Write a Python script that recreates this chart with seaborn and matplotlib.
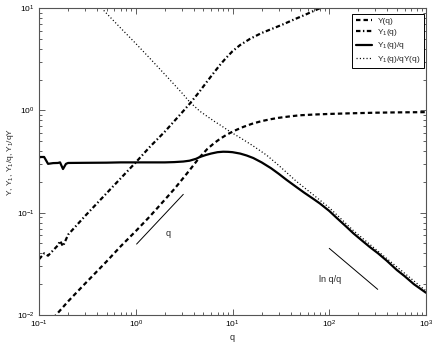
import numpy as np
import pandas as pd
import matplotlib
matplotlib.use("Agg")
import matplotlib.pyplot as plt
import seaborn as sns

# --- data ---
q_Y = [0.14, 0.15, 0.2, 0.3, 0.5, 0.7, 1.0, 1.4, 2.0, 2.5, 3.0, 3.6, 4.6, 5.5,
       6.5, 7.4, 8.5, 9.4, 11, 13, 16, 20, 25, 30, 40, 50, 70, 100, 164, 300,
       500, 1000]
Y = [0.0093, 0.010, 0.0136, 0.0203, 0.0334, 0.047, 0.066, 0.092, 0.134, 0.17,
     0.21, 0.26, 0.35, 0.42, 0.48, 0.525, 0.57, 0.60, 0.645, 0.69, 0.74, 0.785,
     0.82, 0.845, 0.875, 0.895, 0.91, 0.922, 0.935, 0.948, 0.955, 0.96]

q_Y1 = [0.1, 0.113, 0.124, 0.157, 0.165, 0.177, 0.2, 0.3, 0.5, 0.7, 1.0, 1.4,
        2.0, 3.0, 3.64, 4.5, 5.5, 6.5, 7.43, 8.5, 10, 12, 15.2, 20, 25, 33, 45,
        55, 68, 85]
Y1 = [0.035, 0.040, 0.038, 0.048, 0.053, 0.047, 0.061, 0.093, 0.155, 0.217,
      0.31, 0.44, 0.62, 0.95, 1.17, 1.5, 1.93, 2.37, 2.78, 3.22, 3.78, 4.35,
      5.0, 5.7, 6.2, 6.9, 7.85, 8.5, 9.3, 10.2]

q_Y1q = [0.1, 0.102, 0.113, 0.124, 0.14, 0.157, 0.165, 0.177, 0.19, 0.2, 0.3,
         0.5, 0.7, 1.0, 1.5, 2.0, 2.5, 3.1, 3.6, 4.2, 4.6, 5.3, 6.0, 7.0, 8.0,
         9.0, 10, 12, 14, 16.4, 20, 25, 30, 36, 45, 55, 68, 80, 100, 120, 150,
         177, 220, 260, 320, 392, 500, 600, 750, 1000]
Y1_q = [0.34, 0.35, 0.35, 0.30, 0.305, 0.306, 0.31, 0.267, 0.30, 0.306, 0.307,
        0.308, 0.31, 0.31, 0.31, 0.31, 0.312, 0.316, 0.322, 0.336, 0.35, 0.366,
        0.378, 0.39, 0.394, 0.393, 0.39, 0.378, 0.362, 0.342, 0.31, 0.272, 0.24,
        0.21, 0.18, 0.157, 0.137, 0.123, 0.104, 0.0885, 0.073, 0.063, 0.053,
        0.0465, 0.040, 0.034, 0.0275, 0.024, 0.020, 0.0165]

q_ratio = [0.42, 0.48, 0.7, 1.0, 1.4, 2.26, 3.0, 3.6, 4.6, 5.5, 6.5, 7.43, 9.4,
           12, 16, 22.5, 30, 45, 68, 100, 177, 392, 1000]
Y1_qY = [10.6, 9.2, 6.35, 4.5, 3.22, 1.98, 1.48, 1.21, 0.98, 0.87, 0.78, 0.72,
         0.62, 0.54, 0.455, 0.365, 0.29, 0.205, 0.15, 0.112, 0.067, 0.0357, 0.0172]

# slope guides
guide_q_x = [1.02, 3.1]
guide_q_y = [0.0493, 0.151]
guide_ln_x = [100, 317]
guide_ln_y = [0.0448, 0.0178]
label_q_pos = (2.14, 0.063)
label_ln_pos = (101.8, 0.0224)

sns.set_style("ticks")
plt.rcParams['font.family'] = ['Liberation Sans', 'DejaVu Sans']
plt.rcParams['mathtext.default'] = 'regular'
plt.rcParams['lines.scale_dashes'] = False

fig = plt.figure(figsize=(4.36, 3.44), dpi=100)
ax = fig.add_axes([39 / 436, 1 - 315 / 344, 387 / 436, 307 / 344])

sns.lineplot(x=q_Y, y=Y, ax=ax, color='black', lw=1.6,
             linestyle=(0, (3.2, 2.2)), label='Y(q)')
sns.lineplot(x=q_Y1, y=Y1, ax=ax, color='black', lw=1.6,
             linestyle=(0, (3.2, 1.8, 1.0, 1.8)), label='Y$_1$(q)')
sns.lineplot(x=q_Y1q, y=Y1_q, ax=ax, color='black', lw=1.6,
             label='Y$_1$(q)/q')
sns.lineplot(x=q_ratio, y=Y1_qY, ax=ax, color='black', lw=0.9,
             linestyle=(0, (0.8, 1.6)), label='Y$_1$(q)/qY(q)')

ax.plot(guide_q_x, guide_q_y, color='black', lw=0.7)
ax.plot(guide_ln_x, guide_ln_y, color='black', lw=0.7)
ax.text(*label_q_pos, 'q', fontsize=6.5, ha='center', va='center')
ax.text(*label_ln_pos, 'ln q/q', fontsize=6.5, ha='center', va='center')

ax.set_xscale('log')
ax.set_yscale('log')
ax.set_xlim(0.1, 1000)
ax.set_ylim(0.01, 10)
ax.set_xlabel('q', fontsize=6.5, labelpad=2)
ax.set_ylabel('Y, Y$_1$, Y$_1$/q, Y$_1$/qY', fontsize=6, labelpad=1)

ax.tick_params(which='both', direction='in', top=True, right=True,
               labelsize=6, colors='#444444', labelcolor='black', width=0.6)
ax.tick_params(which='major', length=4, pad=3)
ax.tick_params(which='minor', length=2)
for s in ax.spines.values():
    s.set_color('#555555')
    s.set_linewidth(0.8)

leg = ax.legend(loc='upper right', bbox_to_anchor=(0.996, 0.98), fontsize=6,
                frameon=True, fancybox=False, edgecolor='black', framealpha=1,
                handlelength=2.0, handletextpad=0.6, borderpad=0.4,
                labelspacing=0.25, borderaxespad=0)
leg.get_frame().set_linewidth(0.7)

fig.savefig('out.png', dpi=100)
